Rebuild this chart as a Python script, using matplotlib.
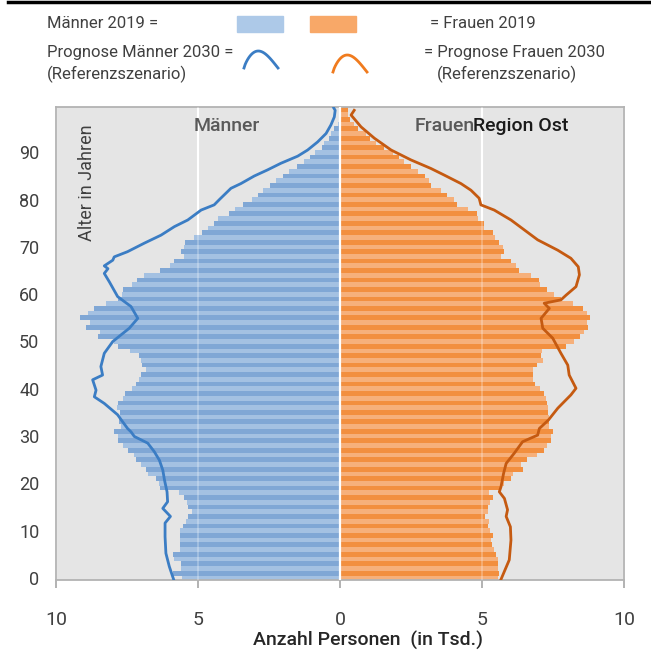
import matplotlib
matplotlib.use("Agg")
import matplotlib.pyplot as plt
from matplotlib.patches import Rectangle
import numpy as np

plt.rcParams['font.family'] = ['Roboto', 'DejaVu Sans']

ages = list(range(100))
maenner_2019 = [5.57, 5.89, 5.6, 5.6, 5.83, 5.89, 5.62, 5.62, 5.62, 5.62,
                5.62, 5.54, 5.42, 5.34, 5.22, 5.36, 5.39, 5.48, 5.66, 6.33,
                6.36, 6.48, 6.77, 6.83, 7.0, 7.18, 7.24, 7.48, 7.65, 7.8,
                7.83, 7.95, 7.7, 7.78, 7.75, 7.76, 7.85, 7.83, 7.65, 7.57,
                7.33, 7.18, 7.07, 7.0, 6.83, 6.98, 7.0, 7.07, 7.38, 7.8,
                7.95, 8.51, 8.44, 8.93, 8.79, 9.14, 8.86, 8.65, 8.23, 7.8,
                7.69, 7.65, 7.33, 7.16, 6.89, 6.34, 6.0, 5.85, 5.5, 5.6,
                5.5, 5.45, 5.15, 4.85, 4.65, 4.45, 4.3, 3.9, 3.7, 3.4,
                3.1, 2.9, 2.7, 2.45, 2.25, 2.0, 1.78, 1.5, 1.28, 1.05,
                0.88, 0.65, 0.55, 0.4, 0.3, 0.2, 0.08, 0.05, 0.03, 0.02]
frauen_2019 = [5.55, 5.61, 5.55, 5.57, 5.55, 5.49, 5.43, 5.34, 5.32, 5.38,
               5.29, 5.2, 5.26, 5.11, 5.2, 5.22, 5.29, 5.38, 5.26, 5.67,
               5.79, 6.02, 6.08, 6.43, 6.37, 6.58, 6.94, 7.2, 7.29, 7.43,
               7.43, 7.49, 7.37, 7.35, 7.37, 7.34, 7.34, 7.29, 7.25, 7.2,
               7.05, 6.87, 6.78, 6.78, 6.78, 6.94, 7.14, 7.08, 7.1, 7.96,
               8.25, 8.46, 8.6, 8.74, 8.7, 8.81, 8.7, 8.54, 8.19, 7.78,
               7.55, 7.29, 7.05, 7.02, 6.73, 6.29, 6.2, 6.02, 5.67, 5.79,
               5.73, 5.61, 5.46, 5.38, 5.08, 5.06, 4.85, 4.82, 4.52, 4.12,
               4.03, 3.77, 3.56, 3.2, 3.15, 2.99, 2.76, 2.5, 2.26, 2.09,
               1.85, 1.56, 1.27, 1.07, 0.92, 0.65, 0.5, 0.35, 0.29, 0.29]

m2030_age = [-0.3, 2.4, 5.2, 8.7, 11.6, 13.0, 14.7, 16.1, 18.2, 20.7, 22.8, 24.9,
             26.7, 28.5, 29.9, 30.9, 31.6, 33.4, 34.5, 36.9, 38.3, 39.7, 41.9,
             42.9, 44.7, 47.5, 50.0, 52.8, 54.9, 57.4, 59.5, 62.6, 64.4, 65.4,
             66.0, 67.2, 67.9, 69.0, 70.8, 72.5, 74.3, 75.7, 77.8, 78.9, 80.0,
             82.4, 83.4, 85.0, 86.3, 87.7, 89.2, 90.5, 92.2, 94.0, 95.8, 97.5,
             98.9, 99.4]
m2030_val = [5.86, 6.01, 6.13, 6.16, 6.16, 5.97, 6.24, 6.07, 6.09, 6.18, 6.24, 6.36,
             6.54, 6.77, 7.24, 7.36, 7.48, 7.7, 7.83, 8.3, 8.65, 8.59, 8.71,
             8.36, 8.42, 8.3, 8.0, 7.42, 7.12, 7.36, 7.83, 8.12, 8.3, 8.17,
             8.3, 8.0, 7.95, 7.48, 6.89, 6.3, 5.83, 5.36, 4.89, 4.43, 4.25,
             3.84, 3.49, 3.02, 2.55, 2.08, 1.49, 1.14, 0.79, 0.49, 0.32, 0.2,
             0.17, 0.22]
f2030_age = [-0.3, 3.8, 8.0, 10.8, 13.0, 14.4, 16.8, 18.2, 19.3, 22.1, 24.2, 26.4,
             28.8, 30.2, 31.6, 33.4, 35.9, 38.7, 40.1, 42.9, 45.0, 47.5, 50.7,
             52.8, 54.9, 57.0, 58.1, 58.8, 59.8, 61.6, 64.1, 65.8, 67.6, 69.3,
             71.5, 73.6, 75.7, 77.8, 78.9, 80.3, 82.0, 83.4, 85.2, 86.6, 88.4,
             90.5, 93.0, 95.4, 97.9, 98.9]
f2030_val = [5.67, 5.96, 6.02, 6.0, 5.85, 5.9, 5.79, 5.61, 5.67, 5.76, 5.85, 6.14,
             6.43, 6.96, 7.02, 7.34, 7.67, 8.13, 8.31, 8.07, 8.02, 7.78, 7.49,
             7.14, 7.08, 7.37, 7.19, 7.78, 7.96, 8.31, 8.43, 8.39, 8.13, 7.67,
             6.96, 6.49, 6.02, 5.43, 4.96, 4.9, 4.61, 4.26, 3.67, 3.2, 2.5,
             1.8, 1.21, 0.74, 0.39, 0.5]

x_ticks = [-10, -5, 0, 5, 10]
x_ticklabels = ["10", "5", "0", "5", "10"]
y_ticks = list(range(0, 100, 10))

W, H = 651, 651
fig = plt.figure(figsize=(W / 100, H / 100), dpi=100)
ax = fig.add_axes([56 / W, 1 - 580 / H, (624 - 56) / W, (580 - 107) / H])
ax.set_facecolor('#e5e5e5')

blue_dark, blue_light = '#80a7d5', '#a4c1e2'
or_dark, or_light = '#f28f3f', '#f6b07b'
m_cols = [blue_dark if a % 2 else blue_light for a in ages]
f_cols = [or_dark if a % 2 else or_light for a in ages]

for xv in x_ticks:
    ax.axvline(xv, color='white', lw=1.5, zorder=1)
ax.barh(ages, [-v for v in maenner_2019], height=1.0, color=m_cols, lw=0, zorder=2)
ax.barh(ages, frauen_2019, height=1.0, color=f_cols, lw=0, zorder=2)
for xv in (-5, 5):
    ax.axvline(xv, color='white', lw=1.2, alpha=0.3, zorder=3)
ax.axvline(0, color='white', lw=1.6, zorder=3)

ax.plot([-v for v in m2030_val], m2030_age, color='#3b7dc4', lw=2.0, zorder=4,
        solid_joinstyle='round')
ax.plot(f2030_val, f2030_age, color='#c55a11', lw=2.0, zorder=4,
        solid_joinstyle='round')

tc = '#404040'
ax.set_xlim(-10, 10)
ax.set_ylim(-0.45, 99.6)
ax.set_xticks(x_ticks)
ax.set_xticklabels(x_ticklabels, fontsize=14, color=tc)
ax.set_yticks(y_ticks)
ax.set_yticklabels([str(v) for v in y_ticks], fontsize=13, color=tc)
ax.tick_params(axis='x', length=6, color='#a6a6a6', width=1.2, pad=16)
ax.tick_params(axis='y', length=0, pad=12)
for s in ax.spines.values():
    s.set_color('#b3b3b3')
    s.set_linewidth(1.3)

ax.text(0.055, 0.84, 'Alter in Jahren', transform=ax.transAxes, rotation=90,
        ha='center', va='center', fontsize=13, color=tc)

fig.text(227 / W, 1 - 126 / H, 'Männer', ha='center', va='center', fontsize=14,
         fontweight='medium', color='#595959')
fig.text(415 / W, 1 - 126 / H, 'Frauen', ha='left', va='center', fontsize=14,
         fontweight='medium', color='#595959')
fig.text(473 / W, 1 - 126 / H, 'Region Ost', ha='left', va='center', fontsize=14,
         fontweight='medium', color='#1a1a1a')

fig.text(368 / W, 1 - 640 / H, 'Anzahl Personen  (in Tsd.)', ha='center', va='center',
         fontsize=14, fontweight='medium', color='#262626')

# legend block
fs = 12
fig.text(47 / W, 1 - 24 / H, 'Männer 2019 =', ha='left', va='center', fontsize=fs, color=tc)
fig.text(430 / W, 1 - 24 / H, '= Frauen 2019', ha='left', va='center', fontsize=fs, color=tc)
fig.text(47 / W, 1 - 52 / H, 'Prognose Männer 2030 =', ha='left', va='center', fontsize=fs, color=tc)
fig.text(47 / W, 1 - 74 / H, '(Referenzszenario)', ha='left', va='center', fontsize=fs, color=tc)
fig.text(424 / W, 1 - 52 / H, '= Prognose Frauen 2030', ha='left', va='center', fontsize=fs, color=tc)
fig.text(437 / W, 1 - 74 / H, '(Referenzszenario)', ha='left', va='center', fontsize=fs, color=tc)
fig.patches.append(Rectangle((237 / W, 1 - 32 / H), 46 / W, 16 / H,
                             transform=fig.transFigure, color='#adc9e8', figure=fig))
fig.patches.append(Rectangle((310 / W, 1 - 32 / H), 46 / W, 16 / H,
                             transform=fig.transFigure, color='#f8a868', figure=fig))
t = np.linspace(0, 1, 30)
ax_l = fig.add_axes([0, 0, 1, 1], facecolor='none')
ax_l.set_xlim(0, W)
ax_l.set_ylim(H, 0)
ax_l.axis('off')
bx = 244 + 34 * t
by = 68 - 17 * np.sin(np.pi * t ** 0.8)
ax_l.plot(bx, by, color='#3b7dc4', lw=2.0)
ox = 333 + 34 * t
oy = 72 - 17 * np.sin(np.pi * t ** 0.8)
ax_l.plot(ox, oy, color='#f07b1e', lw=2.0)
ax_l.plot([8, W], [2, 2], color='black', lw=2.5)

fig.savefig('out.png', dpi=100)
